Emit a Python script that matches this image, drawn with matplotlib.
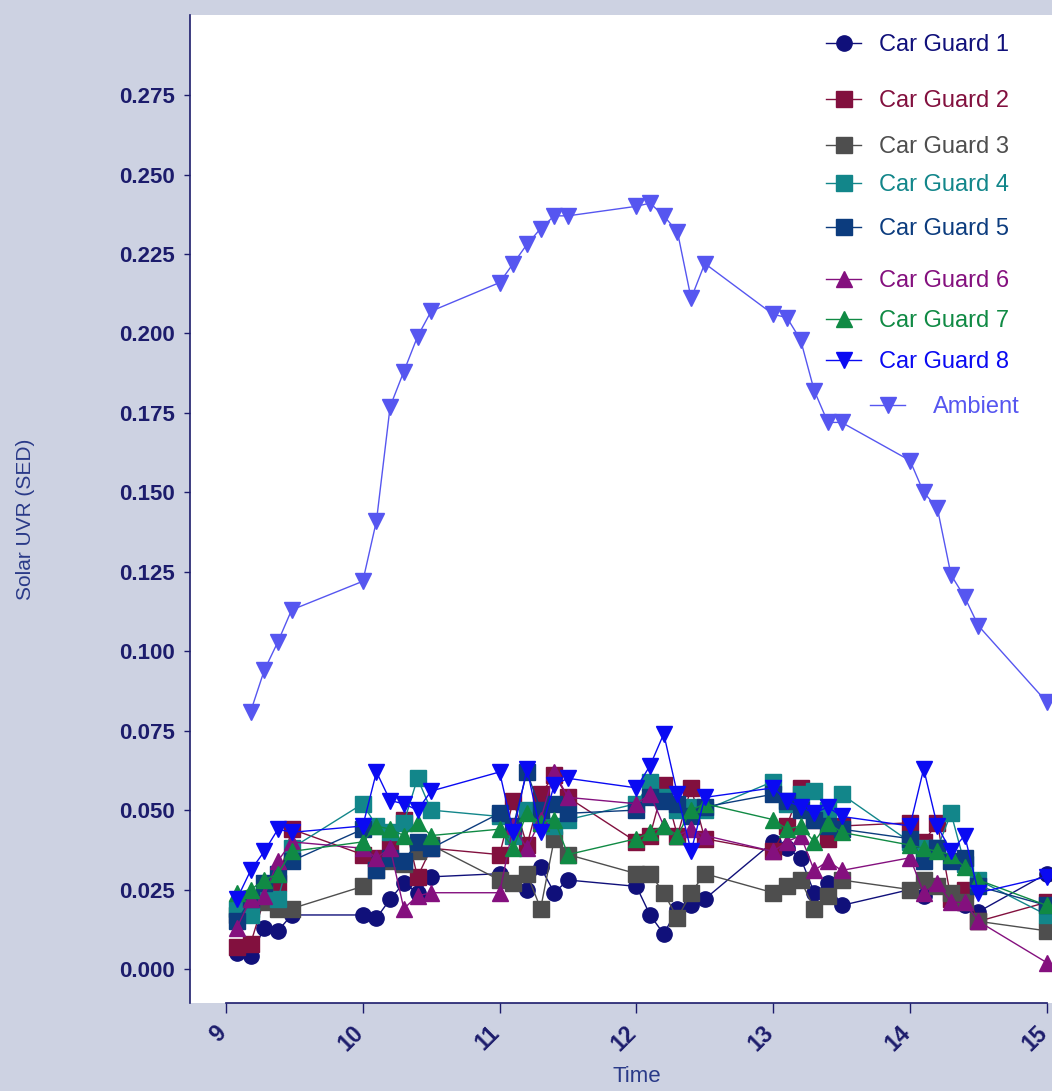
import matplotlib.pyplot as plt
from matplotlib.transforms import ScaledTranslation

plt.rcParams['font.family'] = ['Liberation Sans', 'DejaVu Sans']

# sampling times (decimal hours)
guard_time = [9.08, 9.18, 9.28, 9.38, 9.48,
              10.0, 10.1, 10.2, 10.3, 10.4, 10.5,
              11.0, 11.1, 11.2, 11.3, 11.4, 11.5,
              12.0, 12.1, 12.2, 12.3, 12.4, 12.5,
              13.0, 13.1, 13.2, 13.3, 13.4, 13.5,
              14.0, 14.1, 14.2, 14.3, 14.4, 14.5,
              15.0]
ambient_time = guard_time[1:]

# solar UVR exposure (SED) per car guard
cg1 = [0.005, 0.004, 0.013, 0.012, 0.017,
       0.017, 0.016, 0.022, 0.027, 0.024, 0.029,
       0.030, 0.027, 0.025, 0.032, 0.024, 0.028,
       0.026, 0.017, 0.011, 0.019, 0.020, 0.022,
       0.040, 0.038, 0.035, 0.024, 0.027, 0.020,
       0.025, 0.023, 0.026, 0.022, 0.020, 0.018,
       0.030]
cg2 = [0.007, 0.008, 0.022, 0.027, 0.044,
       0.036, 0.035, 0.038, 0.047, 0.029, 0.038,
       0.036, 0.053, 0.039, 0.055, 0.061, 0.054,
       0.040, 0.042, 0.058, 0.042, 0.057, 0.041,
       0.037, 0.045, 0.057, 0.047, 0.041, 0.045,
       0.046, 0.040, 0.046, 0.022, 0.025, 0.015,
       0.021]
cg3 = [0.017, 0.019, 0.021, 0.019, 0.019,
       0.026, 0.031, 0.034, 0.033, 0.037, 0.039,
       0.028, 0.027, 0.030, 0.019, 0.041, 0.036,
       0.030, 0.030, 0.024, 0.016, 0.024, 0.030,
       0.024, 0.026, 0.028, 0.019, 0.023, 0.028,
       0.025, 0.028, 0.026, 0.024, 0.021, 0.015,
       0.012]
cg4 = [0.019, 0.017, 0.024, 0.022, 0.038,
       0.052, 0.045, 0.043, 0.046, 0.060, 0.050,
       0.048, 0.042, 0.050, 0.046, 0.045, 0.047,
       0.052, 0.059, 0.054, 0.050, 0.051, 0.050,
       0.059, 0.052, 0.055, 0.056, 0.050, 0.055,
       0.040, 0.038, 0.038, 0.049, 0.033, 0.028,
       0.017]
cg5 = [0.015, 0.022, 0.027, 0.030, 0.034,
       0.044, 0.031, 0.035, 0.034, 0.040, 0.038,
       0.049, 0.045, 0.062, 0.050, 0.052, 0.049,
       0.050, 0.054, 0.053, 0.052, 0.048, 0.051,
       0.055, 0.053, 0.050, 0.047, 0.045, 0.044,
       0.041, 0.034, 0.038, 0.034, 0.035, 0.026,
       0.020]
cg6 = [0.013, 0.022, 0.023, 0.034, 0.040,
       0.038, 0.035, 0.038, 0.019, 0.023, 0.024,
       0.024, 0.045, 0.038, 0.047, 0.062, 0.054,
       0.052, 0.055, 0.045, 0.042, 0.044, 0.042,
       0.037, 0.040, 0.042, 0.031, 0.034, 0.031,
       0.035, 0.024, 0.027, 0.021, 0.021, 0.015,
       0.002]
cg7 = [0.024, 0.025, 0.028, 0.030, 0.037,
       0.040, 0.045, 0.044, 0.042, 0.046, 0.042,
       0.044, 0.038, 0.049, 0.046, 0.047, 0.036,
       0.041, 0.043, 0.045, 0.042, 0.050, 0.052,
       0.047, 0.044, 0.045, 0.040, 0.046, 0.043,
       0.039, 0.038, 0.037, 0.036, 0.032, 0.028,
       0.020]
cg8 = [0.022, 0.031, 0.037, 0.044, 0.043,
       0.045, 0.062, 0.053, 0.052, 0.050, 0.056,
       0.062, 0.043, 0.063, 0.043, 0.058, 0.060,
       0.057, 0.064, 0.074, 0.055, 0.037, 0.054,
       0.057, 0.053, 0.051, 0.049, 0.051, 0.048,
       0.045, 0.063, 0.045, 0.037, 0.042, 0.024,
       0.029]
ambient = [0.081, 0.094, 0.103, 0.113,
           0.122, 0.141, 0.177, 0.188, 0.199, 0.207,
           0.216, 0.222, 0.228, 0.233, 0.237, 0.237,
           0.240, 0.241, 0.237, 0.232, 0.211, 0.222,
           0.206, 0.205, 0.198, 0.182, 0.172, 0.172,
           0.160, 0.150, 0.145, 0.124, 0.117, 0.108,
           0.084]

guards = [cg1, cg2, cg3, cg4, cg5, cg6, cg7, cg8]
labels = ['Car Guard %d' % (i + 1) for i in range(8)]
colors = ['#10107a', '#82103e', '#4e4e4e', '#12868a',
          '#0c3c7e', '#84107e', '#108a44', '#0a0af2']
markers = ['o', 's', 's', 's', 's', '^', '^', 'v']
amb_color = '#5656f0'
navy = '#1c1c6c'

W, H = 1052, 1091
fig = plt.figure(figsize=(W / 100, H / 100), dpi=100)
fig.patch.set_facecolor('#cdd2e2')
ax = fig.add_axes([190 / W, 88 / H, 862 / W, 988 / H])
ax.set_facecolor('white')

handles = []
for g, lab, c, m in zip(guards, labels, colors, markers):
    h, = ax.plot(guard_time, g, color=c, marker=m, markersize=11,
                 linewidth=1.0, label=lab)
    handles.append(h)
amb, = ax.plot(ambient_time, ambient, color=amb_color, marker='v',
               markersize=11.5, linewidth=1.0, label='Ambient')

ax.set_xlim(8.737, 15.038)
ax.set_ylim(-0.0107, 0.3002)

for s in ['top', 'right']:
    ax.spines[s].set_visible(False)
for s in ['left', 'bottom']:
    ax.spines[s].set_color(navy)
    ax.spines[s].set_linewidth(1.2)
ax.spines['bottom'].set_bounds(9, 15)

ax.set_xticks(range(9, 16))
ax.set_yticks([i * 0.025 for i in range(12)])
ax.set_yticklabels(['%.3f' % (i * 0.025) for i in range(12)])
ax.tick_params(axis='y', colors=navy, length=4, width=1.0, pad=7,
               labelsize=16)
ax.tick_params(axis='x', colors=navy, length=7, width=1.0, pad=6,
               labelsize=16.5)
for t in ax.get_yticklabels():
    t.set_fontweight('bold')
shift = ScaledTranslation(5 / 100, 0, fig.dpi_scale_trans)
for t in ax.get_xticklabels():
    t.set_fontweight('bold')
    t.set_rotation(45)
    t.set_ha('right')
    t.set_transform(t.get_transform() + shift)

ax.set_xlabel('Time', fontsize=16, color='#2a3a88')
ax.xaxis.set_label_coords((12 - 8.737) / 6.301, -0.064)
ax.set_ylabel('Solar UVR (SED)', fontsize=15, color='#2a3a88')
ax.yaxis.set_label_coords(-0.180, 0.49)

# one legend row per series, Prism-style uneven spacing
row_y = [45, 101, 147, 185, 229, 281, 321, 362]
for h, c, y in zip(handles, colors, row_y):
    leg = ax.legend(handles=[h], loc='center left',
                    bbox_to_anchor=(826 / W, 1 - y / H),
                    bbox_transform=fig.transFigure, frameon=False,
                    fontsize=17, handlelength=1.5, handletextpad=0.75,
                    borderpad=0, borderaxespad=0)
    leg.get_texts()[0].set_color(c)
    ax.add_artist(leg)

leg2 = ax.legend(handles=[amb], loc='center left',
                 bbox_to_anchor=(870 / W, 1 - 407 / H),
                 bbox_transform=fig.transFigure, frameon=False,
                 fontsize=17, handlelength=1.5, handletextpad=1.15,
                 borderpad=0, borderaxespad=0)
leg2.get_texts()[0].set_color(amb_color)

fig.savefig('out.png', dpi=100, facecolor=fig.get_facecolor())
